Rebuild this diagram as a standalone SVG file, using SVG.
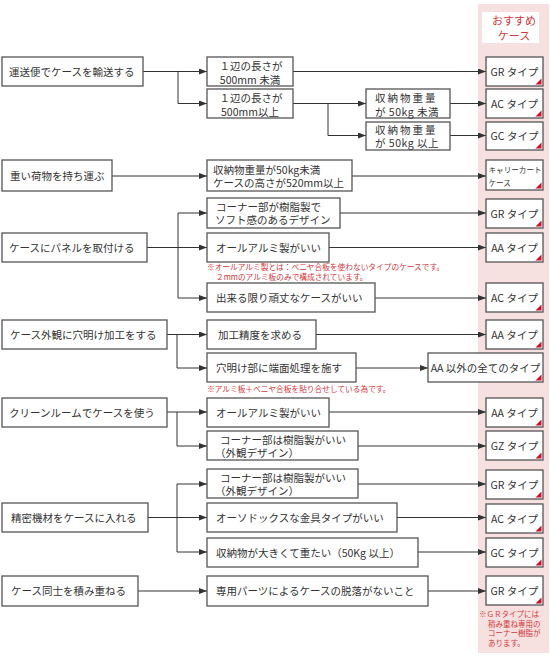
<svg xmlns="http://www.w3.org/2000/svg" width="550" height="662" viewBox="0 0 550 662">
<style>
text{font-family:"Noto Sans CJK JP","Noto Sans",sans-serif;fill:#333;font-size:10.5px}
.box{fill:#fff;stroke:#555;stroke-width:1.3}
.c{text-anchor:middle}
.red{fill:#d2383c;font-size:11px}
.note{font-size:7.7px;fill:#d2383c}
.sn{font-size:7.5px}
.cart{font-size:7.6px}
.ln{fill:none;stroke:#333;stroke-width:1}
.tri{fill:#d0102a}
</style>
<defs>
<marker id="ah" markerUnits="userSpaceOnUse" markerWidth="9" markerHeight="7" refX="8" refY="3" orient="auto">
<path d="M0,0 L8,3 L0,6 z" fill="#333"/>
</marker>
</defs>
<rect x="478" y="4" width="71" height="649" fill="#f7e0e0"/>
<g id="header">
<rect x="482" y="12" width="57" height="31" fill="#fff"/>
<text x="514" y="25" class="c red">おすすめ</text>
<text x="514" y="39.5" class="c red">ケース</text>
</g>
<g id="connectors" class="conn">
<path class="ln" marker-end="url(#ah)" d="M143,71.5 H207"/>
<path class="ln" marker-end="url(#ah)" d="M178,71.5 V103.5 H207"/>
<path class="ln" marker-end="url(#ah)" d="M293,71.5 H486"/>
<path class="ln" marker-end="url(#ah)" d="M293,103.5 H366"/>
<path class="ln" marker-end="url(#ah)" d="M328,103.5 V135.5 H366"/>
<path class="ln" marker-end="url(#ah)" d="M450,103.5 H486"/>
<path class="ln" marker-end="url(#ah)" d="M450,135.5 H486"/>
<path class="ln" marker-end="url(#ah)" d="M112,176 H207"/>
<path class="ln" marker-end="url(#ah)" d="M352,176 H486"/>
<path class="ln" marker-end="url(#ah)" d="M147,247.5 H207"/>
<path class="ln" d="M178,213 V298"/>
<path class="ln" marker-end="url(#ah)" d="M178,213 H207"/>
<path class="ln" marker-end="url(#ah)" d="M178,298 H207"/>
<path class="ln" marker-end="url(#ah)" d="M340,213 H486"/>
<path class="ln" marker-end="url(#ah)" d="M329,247.5 H486"/>
<path class="ln" marker-end="url(#ah)" d="M375,298 H486"/>
<path class="ln" marker-end="url(#ah)" d="M167,334.5 H207"/>
<path class="ln" marker-end="url(#ah)" d="M177,334.5 V368 H207"/>
<path class="ln" marker-end="url(#ah)" d="M316,334.5 H486"/>
<path class="ln" marker-end="url(#ah)" d="M356,368 H428"/>
<path class="ln" marker-end="url(#ah)" d="M167,412 H207"/>
<path class="ln" marker-end="url(#ah)" d="M177,412 V446 H207"/>
<path class="ln" marker-end="url(#ah)" d="M329,412 H486"/>
<path class="ln" marker-end="url(#ah)" d="M358,446 H486"/>
<path class="ln" marker-end="url(#ah)" d="M148,517.5 H207"/>
<path class="ln" d="M177,484 V552"/>
<path class="ln" marker-end="url(#ah)" d="M177,484 H207"/>
<path class="ln" marker-end="url(#ah)" d="M177,552 H207"/>
<path class="ln" marker-end="url(#ah)" d="M358,484 H486"/>
<path class="ln" marker-end="url(#ah)" d="M397,517.5 H486"/>
<path class="ln" marker-end="url(#ah)" d="M418,552 H486"/>
<path class="ln" marker-end="url(#ah)" d="M138,591 H207"/>
<path class="ln" marker-end="url(#ah)" d="M428,591 H486"/>
</g>
<!-- left boxes -->
<g id="L1"><rect class="box" x="2" y="57" width="141" height="29"/><text x="9" y="75.5">運送便でケースを輸送する</text></g>
<g id="L2"><rect class="box" x="2" y="160" width="110" height="31"/><text x="10" y="180">重い荷物を持ち運ぶ</text></g>
<g id="L3"><rect class="box" x="2" y="233" width="145" height="29"/><text x="9" y="251.5">ケースにパネルを取付ける</text></g>
<g id="L4"><rect class="box" x="2" y="320" width="165" height="29"/><text x="10" y="338.5">ケース外観に穴明け加工をする</text></g>
<g id="L5"><rect class="box" x="2" y="398" width="165" height="29"/><text x="9" y="416.5">クリーンルームでケースを使う</text></g>
<g id="L6"><rect class="box" x="2" y="503" width="146" height="29"/><text x="11" y="521.5">精密機材をケースに入れる</text></g>
<g id="L7"><rect class="box" x="2" y="576" width="136" height="30"/><text x="11" y="595">ケース同士を積み重ねる</text></g>
<!-- middle boxes -->
<g id="M1"><rect class="box" x="207" y="57" width="86" height="29"/><text x="251" y="69.5" class="c">１辺の長さが</text><text x="250" y="83.5" class="c">500mm 未満</text></g>
<g id="M2"><rect class="box" x="207" y="89" width="86" height="29"/><text x="251" y="101.5" class="c">１辺の長さが</text><text x="250" y="115.5" class="c">500mm以上</text></g>
<g id="W1"><rect class="box" x="366" y="89" width="84" height="29"/><text x="375" y="101.5" letter-spacing="2">収納物重量</text><text x="375" y="115.5" letter-spacing="0.5">が 50kg 未満</text></g>
<g id="W2"><rect class="box" x="366" y="122" width="84" height="28"/><text x="375" y="133.5" letter-spacing="2">収納物重量</text><text x="375" y="147" letter-spacing="0.5">が 50kg 以上</text></g>
<g id="M3"><rect class="box" x="207" y="160" width="145" height="31"/><text x="213" y="173.5">収納物重量が50kg未満</text><text x="213" y="187">ケースの高さが520mm以上</text></g>
<g id="M4"><rect class="box" x="207" y="198" width="133" height="30"/><text x="216" y="210.5">コーナー部が樹脂製で</text><text x="215" y="224">ソフト感のあるデザイン</text></g>
<g id="M5"><rect class="box" x="207" y="233" width="122" height="29"/><text x="216" y="251.5">オールアルミ製がいい</text></g>
<g id="N1"><text class="note" x="207" y="270">※オールアルミ製とは：ベニヤ合板を使わないタイプのケースです。</text><text class="note" x="216" y="280">２mmのアルミ板のみで構成されています。</text></g>
<g id="M6"><rect class="box" x="207" y="283" width="168" height="29"/><text x="216" y="301.5">出来る限り頑丈なケースがいい</text></g>
<g id="M7"><rect class="box" x="207" y="320" width="109" height="29"/><text x="218" y="338.5">加工精度を求める</text></g>
<g id="M8"><rect class="box" x="207" y="353" width="149" height="29"/><text x="216" y="371.5">穴明け部に端面処理を施す</text></g>
<g id="N2"><text class="note" x="207" y="392">※アルミ板＋ベニヤ合板を貼り合せしている為です。</text></g>
<g id="M9"><rect class="box" x="207" y="398" width="122" height="29"/><text x="216" y="416.5">オールアルミ製がいい</text></g>
<g id="M10"><rect class="box" x="207" y="431" width="151" height="29"/><text x="220" y="443.5">コーナー部は樹脂製がいい</text><text x="215" y="457">（外観デザイン）</text></g>
<g id="M11"><rect class="box" x="207" y="469" width="151" height="29"/><text x="220" y="481.5">コーナー部は樹脂製がいい</text><text x="215" y="495">（外観デザイン）</text></g>
<g id="M12"><rect class="box" x="207" y="503" width="190" height="29"/><text x="216" y="521.5">オーソドックスな金具タイプがいい</text></g>
<g id="M13"><rect class="box" x="207" y="538" width="211" height="29"/><text x="216" y="556.5">収納物が大きくて重たい（50Kg 以上）</text></g>
<g id="M14"><rect class="box" x="207" y="576" width="221" height="30"/><text x="216" y="595">専用パーツによるケースの脱落がないこと</text></g>
<!-- result boxes -->
<g id="R1"><rect class="box" x="486" y="57" width="57" height="29"/><text x="514.5" y="75.5" class="c">GR タイプ</text><polygon class="tri" points="541.5,78.5 541.5,84.5 535.5,84.5"/></g>
<g id="R2"><rect class="box" x="486" y="89" width="57" height="29"/><text x="514.5" y="107.5" class="c">AC タイプ</text><polygon class="tri" points="541.5,110.5 541.5,116.5 535.5,116.5"/></g>
<g id="R3"><rect class="box" x="486" y="122" width="57" height="28"/><text x="514.5" y="140" class="c">GC タイプ</text><polygon class="tri" points="541.5,142.5 541.5,148.5 535.5,148.5"/></g>
<g id="R4"><rect class="box" x="486" y="160" width="57" height="30"/><text x="488.5" y="172.5" class="cart">キャリーカート</text><text x="488.5" y="185.5" class="cart">ケース</text><polygon class="tri" points="541.5,182.5 541.5,188.5 535.5,188.5"/></g>
<g id="R5"><rect class="box" x="486" y="199" width="57" height="29"/><text x="514.5" y="217.5" class="c">GR タイプ</text><polygon class="tri" points="541.5,220.5 541.5,226.5 535.5,226.5"/></g>
<g id="R6"><rect class="box" x="486" y="233" width="57" height="29"/><text x="514.5" y="251.5" class="c">AA タイプ</text><polygon class="tri" points="541.5,254.5 541.5,260.5 535.5,260.5"/></g>
<g id="R7"><rect class="box" x="486" y="283" width="57" height="29"/><text x="514.5" y="301.5" class="c">AC タイプ</text><polygon class="tri" points="541.5,304.5 541.5,310.5 535.5,310.5"/></g>
<g id="R8"><rect class="box" x="486" y="320" width="57" height="29"/><text x="514.5" y="338.5" class="c">AA タイプ</text><polygon class="tri" points="541.5,341.5 541.5,347.5 535.5,347.5"/></g>
<g id="R9"><rect class="box" x="428" y="353" width="115" height="29"/><text x="485.5" y="371.5" class="c">AA 以外の全てのタイプ</text><polygon class="tri" points="541.5,374.5 541.5,380.5 535.5,380.5"/></g>
<g id="R10"><rect class="box" x="486" y="398" width="57" height="29"/><text x="514.5" y="416.5" class="c">AA タイプ</text><polygon class="tri" points="541.5,419.5 541.5,425.5 535.5,425.5"/></g>
<g id="R11"><rect class="box" x="486" y="431" width="57" height="29"/><text x="514.5" y="449.5" class="c">GZ タイプ</text><polygon class="tri" points="541.5,452.5 541.5,458.5 535.5,458.5"/></g>
<g id="R12"><rect class="box" x="486" y="470" width="57" height="29"/><text x="514.5" y="488.5" class="c">GR タイプ</text><polygon class="tri" points="541.5,491.5 541.5,497.5 535.5,497.5"/></g>
<g id="R13"><rect class="box" x="486" y="504" width="57" height="29"/><text x="514.5" y="522.5" class="c">AC タイプ</text><polygon class="tri" points="541.5,525.5 541.5,531.5 535.5,531.5"/></g>
<g id="R14"><rect class="box" x="486" y="538" width="57" height="29"/><text x="514.5" y="556.5" class="c">GC タイプ</text><polygon class="tri" points="541.5,559.5 541.5,565.5 535.5,565.5"/></g>
<g id="R15"><rect class="box" x="486" y="576" width="57" height="29"/><text x="514.5" y="594.5" class="c">GR タイプ</text><polygon class="tri" points="541.5,597.5 541.5,603.5 535.5,603.5"/></g>
<g id="N3">
<text class="note sn" x="479" y="616.5">※ＧＲタイプには</text>
<text class="note sn" x="488" y="626.5">積み重ね専用の</text>
<text class="note sn" x="488" y="636">コーナー樹脂が</text>
<text class="note sn" x="488" y="646">あります。</text>
</g>
</svg>
